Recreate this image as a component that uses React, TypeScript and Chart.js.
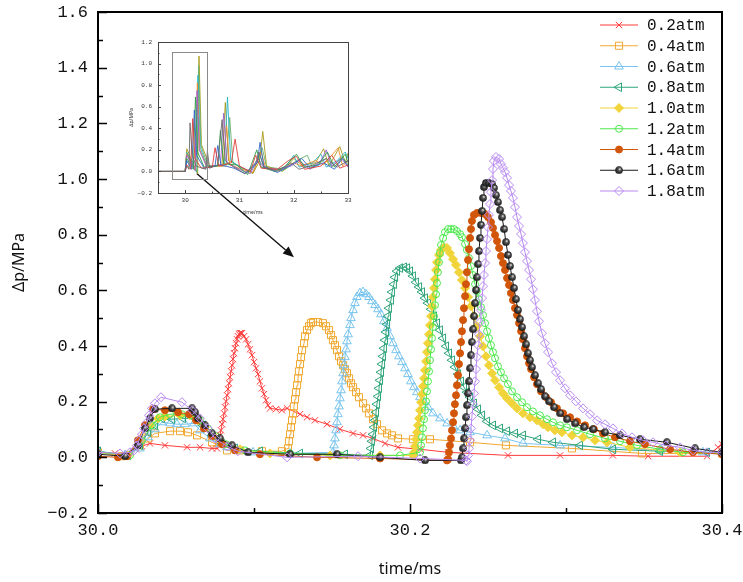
import React, { useEffect, useRef } from 'react';
import { Chart, registerables } from 'chart.js';

Chart.register(...registerables);

type Pt = [number, number];

const MONO = "'Liberation Mono', 'DejaVu Sans Mono', monospace";
const SANS = "'Noto Sans', 'DejaVu Sans', sans-serif";

const LABELS = ['0.2atm', '0.4atm', '0.6atm', '0.8atm', '1.0atm', '1.2atm', '1.4atm', '1.6atm', '1.8atm'];
const COLORS = ['#ff3b3b', '#f0a830', '#79c4ee', '#2fa57a', '#f0d43a', '#4de84d', '#d2560a', '#1a1a1a', '#b889f0'];
const FILLS = ['', '', '', '', '#f0d43a', '', '#d2560a', '', ''];
const MARKERS = ['crossRot', 'rect', 'triangle', 'triangle', 'rectRot', 'circle', 'circle', 'ball', 'rectRot'];
const MARKER_ROT = [0, 0, 0, -90, 0, 0, 0, 0, 0];
const MARKER_R = [4.5, 5, 5, 5, 4.5, 3.5, 3.5, 4, 4.5];

const X_MIN = 30.0, X_MAX = 30.4, X_STEP = 0.2;
const Y_MIN = -0.2, Y_MAX = 1.6, Y_STEP = 0.2;

const ARROW_FROM: Pt = [30.0633, 1.02];
const ARROW_TO: Pt = [30.1256, 0.719];

const P02: Pt[] = [[30.0,0.018],[30.0109,0.014],[30.0192,0.014],[30.0244,0.029],[30.0282,0.040],[30.0333,0.050],[30.0429,0.043],[30.0571,0.036],[30.0654,0.036],[30.0731,0.032],[30.0763,0.032],[30.0769,0.047],[30.0776,0.061],[30.0782,0.079],[30.0788,0.097],[30.0795,0.119],[30.0801,0.137],[30.0808,0.158],[30.0814,0.180],[30.0821,0.201],[30.0827,0.223],[30.0833,0.245],[30.0840,0.266],[30.0846,0.288],[30.0853,0.309],[30.0859,0.331],[30.0865,0.353],[30.0872,0.374],[30.0878,0.392],[30.0885,0.410],[30.0891,0.424],[30.0897,0.435],[30.0904,0.442],[30.0910,0.446],[30.0917,0.446],[30.0923,0.446],[30.0936,0.435],[30.0949,0.424],[30.0962,0.406],[30.0974,0.388],[30.0987,0.367],[30.1000,0.342],[30.1013,0.320],[30.1026,0.299],[30.1038,0.273],[30.1051,0.248],[30.1064,0.227],[30.1077,0.205],[30.1090,0.187],[30.1103,0.176],[30.1141,0.173],[30.1179,0.169],[30.1212,0.176],[30.1295,0.155],[30.1340,0.144],[30.1391,0.133],[30.1468,0.119],[30.1551,0.101],[30.1635,0.086],[30.1699,0.079],[30.1763,0.068],[30.1840,0.050],[30.1923,0.036],[30.2064,0.029],[30.2244,0.018],[30.2628,0.007],[30.2962,0.007],[30.3301,0.007],[30.3526,0.004],[30.3904,0.004],[30.3974,0.036],[30.4000,0.047]];

const P04: Pt[] = [[30.0,0.018],[30.0154,0.004],[30.0269,0.043],[30.0321,0.068],[30.0365,0.086],[30.0462,0.094],[30.0526,0.094],[30.0577,0.090],[30.0635,0.079],[30.0731,0.054],[30.0827,0.025],[30.0910,0.025],[30.1051,0.022],[30.1179,0.022],[30.1218,0.032],[30.1224,0.058],[30.1231,0.083],[30.1237,0.108],[30.1244,0.133],[30.1250,0.158],[30.1256,0.183],[30.1263,0.209],[30.1269,0.234],[30.1276,0.259],[30.1282,0.284],[30.1288,0.309],[30.1295,0.335],[30.1301,0.360],[30.1308,0.385],[30.1321,0.410],[30.1327,0.435],[30.1340,0.457],[30.1353,0.471],[30.1365,0.482],[30.1378,0.486],[30.1410,0.486],[30.1442,0.482],[30.1462,0.471],[30.1481,0.457],[30.1494,0.439],[30.1506,0.421],[30.1519,0.403],[30.1532,0.385],[30.1545,0.363],[30.1558,0.345],[30.1571,0.331],[30.1583,0.317],[30.1596,0.302],[30.1609,0.284],[30.1622,0.266],[30.1635,0.252],[30.1654,0.234],[30.1673,0.216],[30.1699,0.194],[30.1718,0.176],[30.1737,0.158],[30.1763,0.137],[30.1788,0.119],[30.1821,0.097],[30.1853,0.086],[30.1885,0.079],[30.1923,0.068],[30.2019,0.065],[30.2128,0.065],[30.2385,0.054],[30.2615,0.043],[30.3038,0.032],[30.3487,0.014],[30.4,0.014]];

const P06: Pt[] = [[30.0,0.022],[30.0173,0.007],[30.0269,0.032],[30.0321,0.072],[30.0365,0.101],[30.0410,0.126],[30.0462,0.122],[30.0506,0.119],[30.0558,0.119],[30.0615,0.122],[30.0654,0.097],[30.0718,0.068],[30.0782,0.047],[30.0827,0.036],[30.0994,0.018],[30.1231,0.014],[30.1506,0.018],[30.1513,0.043],[30.1519,0.068],[30.1526,0.097],[30.1532,0.126],[30.1538,0.155],[30.1545,0.183],[30.1551,0.212],[30.1558,0.241],[30.1564,0.273],[30.1571,0.302],[30.1577,0.331],[30.1583,0.360],[30.1590,0.388],[30.1596,0.417],[30.1603,0.442],[30.1615,0.475],[30.1622,0.500],[30.1635,0.529],[30.1647,0.554],[30.1660,0.576],[30.1679,0.590],[30.1699,0.594],[30.1718,0.586],[30.1737,0.576],[30.1756,0.561],[30.1776,0.547],[30.1795,0.532],[30.1814,0.514],[30.1833,0.489],[30.1853,0.464],[30.1872,0.435],[30.1891,0.410],[30.1910,0.385],[30.1929,0.363],[30.1949,0.342],[30.1968,0.320],[30.1987,0.299],[30.2006,0.273],[30.2026,0.252],[30.2045,0.234],[30.2064,0.216],[30.2090,0.198],[30.2115,0.180],[30.2147,0.158],[30.2192,0.140],[30.2237,0.122],[30.2282,0.108],[30.2321,0.097],[30.2385,0.090],[30.2494,0.079],[30.2609,0.068],[30.2724,0.050],[30.2962,0.043],[30.3301,0.036],[30.3603,0.025],[30.3878,0.018],[30.4,0.018]];

const P08: Pt[] = [[30.0,0.022],[30.0192,0.007],[30.0269,0.043],[30.0321,0.090],[30.0365,0.115],[30.0410,0.140],[30.0474,0.137],[30.0545,0.140],[30.0622,0.140],[30.0673,0.115],[30.0731,0.079],[30.0795,0.050],[30.0878,0.032],[30.1038,0.022],[30.1295,0.014],[30.1583,0.011],[30.1744,0.007],[30.1750,0.032],[30.1756,0.058],[30.1763,0.083],[30.1769,0.108],[30.1776,0.133],[30.1782,0.162],[30.1788,0.191],[30.1795,0.219],[30.1801,0.248],[30.1808,0.277],[30.1814,0.306],[30.1821,0.335],[30.1827,0.363],[30.1833,0.392],[30.1840,0.421],[30.1846,0.450],[30.1853,0.478],[30.1859,0.507],[30.1865,0.536],[30.1878,0.565],[30.1885,0.594],[30.1897,0.622],[30.1904,0.647],[30.1917,0.669],[30.1936,0.680],[30.1962,0.683],[30.1981,0.680],[30.2000,0.669],[30.2019,0.651],[30.2038,0.629],[30.2058,0.612],[30.2077,0.594],[30.2096,0.572],[30.2115,0.554],[30.2135,0.532],[30.2154,0.507],[30.2173,0.482],[30.2192,0.457],[30.2212,0.428],[30.2231,0.399],[30.2250,0.374],[30.2269,0.349],[30.2288,0.324],[30.2308,0.299],[30.2327,0.273],[30.2346,0.252],[30.2365,0.234],[30.2385,0.216],[30.2410,0.194],[30.2436,0.173],[30.2462,0.151],[30.2494,0.129],[30.2532,0.115],[30.2577,0.104],[30.2622,0.094],[30.2673,0.086],[30.2724,0.079],[30.2821,0.065],[30.2917,0.054],[30.3090,0.043],[30.3301,0.029],[30.3603,0.022],[30.3904,0.018],[30.4,0.018]];

const P10: Pt[] = [[30.0,0.018],[30.0192,0.007],[30.0269,0.061],[30.0333,0.115],[30.0385,0.140],[30.0429,0.147],[30.0526,0.151],[30.0590,0.151],[30.0641,0.133],[30.0686,0.108],[30.0737,0.079],[30.0795,0.054],[30.0910,0.029],[30.1103,0.014],[30.1487,0.007],[30.1808,0.007],[30.2019,0.007],[30.2026,0.018],[30.2032,0.040],[30.2038,0.065],[30.2045,0.090],[30.2051,0.115],[30.2058,0.140],[30.2064,0.169],[30.2071,0.198],[30.2077,0.227],[30.2083,0.255],[30.2090,0.284],[30.2096,0.313],[30.2103,0.345],[30.2109,0.378],[30.2115,0.410],[30.2122,0.442],[30.2128,0.475],[30.2135,0.507],[30.2141,0.543],[30.2147,0.576],[30.2154,0.608],[30.2160,0.640],[30.2167,0.673],[30.2173,0.701],[30.2186,0.727],[30.2199,0.745],[30.2218,0.755],[30.2237,0.752],[30.2256,0.734],[30.2276,0.712],[30.2295,0.691],[30.2314,0.665],[30.2333,0.637],[30.2353,0.608],[30.2372,0.576],[30.2391,0.543],[30.2410,0.507],[30.2429,0.471],[30.2449,0.435],[30.2468,0.399],[30.2487,0.363],[30.2506,0.331],[30.2526,0.302],[30.2545,0.277],[30.2571,0.252],[30.2596,0.230],[30.2622,0.212],[30.2654,0.194],[30.2686,0.176],[30.2724,0.158],[30.2769,0.144],[30.2814,0.133],[30.2853,0.119],[30.2885,0.108],[30.2929,0.097],[30.2974,0.090],[30.3038,0.079],[30.3109,0.072],[30.3186,0.061],[30.3263,0.054],[30.3410,0.036],[30.3731,0.018],[30.4,0.014]];

const P12: Pt[] = [[30.0,0.018],[30.0205,0.007],[30.0282,0.061],[30.0346,0.115],[30.0397,0.144],[30.0462,0.155],[30.0538,0.155],[30.0603,0.151],[30.0654,0.133],[30.0705,0.104],[30.0756,0.076],[30.0821,0.047],[30.0942,0.025],[30.1231,0.014],[30.1551,0.007],[30.1936,0.007],[30.2064,0.018],[30.2071,0.043],[30.2077,0.072],[30.2083,0.104],[30.2090,0.137],[30.2096,0.169],[30.2103,0.201],[30.2109,0.237],[30.2115,0.273],[30.2122,0.309],[30.2128,0.349],[30.2135,0.388],[30.2141,0.428],[30.2147,0.468],[30.2154,0.507],[30.2160,0.547],[30.2167,0.586],[30.2173,0.626],[30.2179,0.665],[30.2186,0.701],[30.2192,0.734],[30.2199,0.763],[30.2212,0.788],[30.2224,0.809],[30.2244,0.820],[30.2263,0.820],[30.2282,0.820],[30.2301,0.813],[30.2321,0.802],[30.2333,0.791],[30.2353,0.766],[30.2365,0.745],[30.2378,0.716],[30.2391,0.687],[30.2404,0.655],[30.2417,0.622],[30.2429,0.597],[30.2442,0.568],[30.2455,0.540],[30.2468,0.511],[30.2481,0.482],[30.2494,0.453],[30.2506,0.428],[30.2519,0.403],[30.2532,0.378],[30.2545,0.356],[30.2564,0.327],[30.2583,0.306],[30.2603,0.284],[30.2628,0.263],[30.2654,0.237],[30.2686,0.216],[30.2718,0.198],[30.2750,0.180],[30.2788,0.165],[30.2833,0.151],[30.2878,0.137],[30.2917,0.126],[30.2962,0.115],[30.3006,0.108],[30.3071,0.097],[30.3154,0.083],[30.3250,0.068],[30.3346,0.058],[30.3455,0.043],[30.3603,0.029],[30.3750,0.018],[30.4,0.014]];

const P14: Pt[] = [[30.0,0.004],[30.0128,0.0],[30.0186,0.004],[30.0256,0.061],[30.0301,0.115],[30.0353,0.173],[30.0429,0.169],[30.0513,0.162],[30.0583,0.155],[30.0628,0.133],[30.0679,0.104],[30.0731,0.076],[30.0795,0.047],[30.0878,0.025],[30.1038,0.011],[30.1404,0.0],[30.1808,-0.004],[30.2237,-0.011],[30.2244,-0.007],[30.2250,0.018],[30.2256,0.043],[30.2263,0.068],[30.2269,0.097],[30.2276,0.126],[30.2282,0.158],[30.2288,0.191],[30.2295,0.223],[30.2301,0.259],[30.2308,0.295],[30.2314,0.335],[30.2321,0.374],[30.2327,0.414],[30.2333,0.453],[30.2340,0.493],[30.2346,0.536],[30.2353,0.579],[30.2359,0.622],[30.2365,0.665],[30.2372,0.709],[30.2378,0.748],[30.2385,0.788],[30.2391,0.820],[30.2397,0.849],[30.2410,0.871],[30.2429,0.878],[30.2455,0.878],[30.2481,0.874],[30.2500,0.863],[30.2519,0.845],[30.2532,0.824],[30.2545,0.799],[30.2558,0.777],[30.2571,0.752],[30.2583,0.723],[30.2596,0.698],[30.2609,0.673],[30.2622,0.644],[30.2635,0.619],[30.2647,0.590],[30.2660,0.565],[30.2673,0.536],[30.2686,0.511],[30.2699,0.482],[30.2712,0.453],[30.2724,0.424],[30.2737,0.392],[30.2750,0.363],[30.2763,0.338],[30.2776,0.317],[30.2795,0.288],[30.2814,0.263],[30.2840,0.237],[30.2872,0.216],[30.2904,0.198],[30.2942,0.176],[30.2981,0.158],[30.3026,0.144],[30.3071,0.129],[30.3122,0.115],[30.3179,0.101],[30.3237,0.086],[30.3314,0.072],[30.3410,0.058],[30.3506,0.047],[30.3667,0.029],[30.3814,0.018],[30.4,0.011]];

const P16: Pt[] = [[30.0,0.011],[30.0173,0.004],[30.0256,0.043],[30.0301,0.104],[30.0333,0.140],[30.0365,0.173],[30.0474,0.176],[30.0603,0.176],[30.0622,0.162],[30.0641,0.140],[30.0686,0.115],[30.0731,0.086],[30.0782,0.068],[30.0859,0.043],[30.0962,0.018],[30.1231,0.011],[30.1532,0.011],[30.1808,0.0],[30.2096,-0.011],[30.2327,-0.011],[30.2333,0.0],[30.2340,0.032],[30.2346,0.068],[30.2353,0.104],[30.2359,0.144],[30.2365,0.187],[30.2372,0.230],[30.2378,0.273],[30.2385,0.320],[30.2391,0.367],[30.2397,0.414],[30.2404,0.460],[30.2410,0.507],[30.2417,0.554],[30.2423,0.601],[30.2429,0.647],[30.2436,0.694],[30.2442,0.741],[30.2449,0.788],[30.2455,0.835],[30.2462,0.885],[30.2468,0.932],[30.2474,0.971],[30.2487,0.986],[30.2506,0.986],[30.2526,0.982],[30.2538,0.968],[30.2551,0.942],[30.2564,0.917],[30.2577,0.888],[30.2590,0.863],[30.2603,0.820],[30.2615,0.773],[30.2628,0.727],[30.2641,0.687],[30.2654,0.647],[30.2667,0.608],[30.2679,0.568],[30.2692,0.529],[30.2705,0.496],[30.2718,0.468],[30.2731,0.435],[30.2744,0.406],[30.2756,0.374],[30.2769,0.349],[30.2782,0.324],[30.2801,0.295],[30.2821,0.266],[30.2840,0.245],[30.2865,0.219],[30.2891,0.201],[30.2923,0.180],[30.2962,0.158],[30.3006,0.137],[30.3058,0.122],[30.3115,0.108],[30.3173,0.101],[30.3250,0.090],[30.3346,0.079],[30.3474,0.065],[30.3647,0.054],[30.3827,0.032],[30.4,0.018]];

const P18: Pt[] = [[30.0,0.018],[30.0141,0.014],[30.0205,0.018],[30.0231,0.025],[30.0250,0.043],[30.0263,0.061],[30.0282,0.083],[30.0295,0.104],[30.0314,0.126],[30.0327,0.151],[30.0346,0.176],[30.0365,0.194],[30.0404,0.216],[30.0538,0.198],[30.0603,0.169],[30.0654,0.140],[30.0705,0.104],[30.0750,0.068],[30.0827,0.040],[30.0897,0.022],[30.1212,0.0],[30.1667,0.004],[30.2064,-0.004],[30.2359,-0.011],[30.2365,-0.014],[30.2372,0.007],[30.2378,0.032],[30.2385,0.061],[30.2391,0.104],[30.2397,0.147],[30.2404,0.191],[30.2410,0.230],[30.2417,0.273],[30.2423,0.317],[30.2429,0.360],[30.2436,0.403],[30.2442,0.442],[30.2449,0.486],[30.2455,0.529],[30.2462,0.572],[30.2468,0.615],[30.2474,0.655],[30.2481,0.698],[30.2487,0.741],[30.2494,0.784],[30.2500,0.827],[30.2506,0.871],[30.2513,0.910],[30.2519,0.953],[30.2526,0.996],[30.2532,1.036],[30.2538,1.065],[30.2551,1.079],[30.2571,1.072],[30.2583,1.054],[30.2596,1.040],[30.2609,1.025],[30.2622,1.004],[30.2635,0.978],[30.2647,0.957],[30.2660,0.932],[30.2673,0.899],[30.2686,0.863],[30.2699,0.831],[30.2712,0.802],[30.2724,0.770],[30.2737,0.737],[30.2750,0.705],[30.2763,0.673],[30.2776,0.640],[30.2788,0.604],[30.2801,0.565],[30.2814,0.525],[30.2827,0.489],[30.2846,0.446],[30.2865,0.410],[30.2885,0.378],[30.2910,0.338],[30.2936,0.306],[30.2962,0.277],[30.2994,0.248],[30.3026,0.223],[30.3064,0.201],[30.3109,0.176],[30.3154,0.155],[30.3199,0.133],[30.3250,0.119],[30.3301,0.104],[30.3359,0.086],[30.3423,0.072],[30.3494,0.061],[30.3558,0.054],[30.3641,0.043],[30.3731,0.036],[30.3814,0.025],[30.3904,0.018],[30.4,0.018]];

const SERIES: Pt[][] = [P02, P04, P06, P08, P10, P12, P14, P16, P18];

// ---------- inset (overview 29.5 – 33 ms) ----------
const INSET_X_MIN = 29.5, INSET_X_MAX = 33, INSET_X_STEP = 1;
const INSET_Y_MIN = -0.2, INSET_Y_MAX = 1.2, INSET_Y_STEP = 0.2;
const INSET_BOX = { x0: 29.76, x1: 30.4, y0: -0.07, y1: 1.108 };
const INSET_COLORS = ['#6b6b6b', '#e0403a', '#3366cc', '#2e9e4a', '#9a5fd0', '#f08c28', '#25b5c8', '#64b06a', '#a89a1a'];

const I1: Pt[] = [[29.5,0.0],[30.0,0.0],[30.03,0.05],[30.07,0.02],[30.09,0.45],[30.13,0.15],[30.2,0.05],[30.38,0.02],[30.41,0.19],[30.45,0.03],[30.6,0.06],[30.68,0.48],[30.74,0.1],[30.9,0.04],[31.1,-0.02],[31.3,0.08],[31.36,0.18],[31.45,0.04],[31.7,0.0],[31.95,0.08],[32.1,0.02],[32.35,0.06],[32.6,0.12],[32.8,0.04],[33.0,0.1]];
const I2: Pt[] = [[29.5,0.0],[30.0,0.0],[30.03,0.06],[30.1,0.02],[30.14,0.49],[30.18,0.12],[30.3,0.03],[30.5,0.04],[30.55,0.22],[30.62,0.05],[30.85,0.08],[30.92,0.3],[31.0,0.05],[31.2,0.0],[31.3,0.15],[31.4,0.03],[31.7,0.02],[31.9,0.1],[32.05,0.14],[32.2,0.02],[32.5,0.05],[32.7,0.15],[32.85,0.03],[33.0,0.06]];
const I3: Pt[] = [[29.5,0.0],[30.0,0.0],[30.03,0.1],[30.12,0.02],[30.17,0.57],[30.21,0.15],[30.35,0.03],[30.55,0.05],[30.6,0.24],[30.66,0.06],[30.9,0.03],[31.1,-0.02],[31.33,0.08],[31.38,0.27],[31.45,0.05],[31.7,-0.01],[31.98,0.07],[32.15,0.12],[32.3,0.03],[32.55,0.08],[32.75,0.02],[32.9,0.12],[33.0,0.05]];
const I4: Pt[] = [[29.5,0.0],[30.0,0.0],[30.03,0.12],[30.15,0.02],[30.19,0.69],[30.23,0.18],[30.35,0.04],[30.6,0.05],[30.65,0.38],[30.71,0.07],[30.95,0.06],[31.15,-0.03],[31.32,0.2],[31.4,0.04],[31.65,0.0],[31.85,0.05],[32.05,0.16],[32.2,0.04],[32.45,0.06],[32.62,0.18],[32.75,0.04],[32.95,0.16],[33.0,0.08]];
const I5: Pt[] = [[29.5,0.0],[30.0,0.0],[30.03,0.15],[30.18,0.01],[30.22,0.75],[30.26,0.2],[30.4,0.04],[30.65,0.06],[30.71,0.54],[30.77,0.08],[31.0,0.02],[31.2,-0.02],[31.35,0.12],[31.45,0.03],[31.7,0.02],[31.95,0.05],[32.1,0.1],[32.3,0.02],[32.5,0.1],[32.6,0.2],[32.7,0.05],[32.88,0.12],[33.0,0.04]];
const I6: Pt[] = [[29.5,0.0],[30.0,0.0],[30.03,0.16],[30.19,0.01],[30.225,0.82],[30.27,0.2],[30.4,0.05],[30.7,0.05],[30.76,0.42],[30.82,0.06],[31.05,0.02],[31.25,-0.01],[31.4,0.18],[31.48,0.04],[31.75,0.01],[32.0,0.08],[32.15,0.05],[32.4,0.1],[32.55,0.06],[32.82,0.22],[32.9,0.05],[33.0,0.1]];
const I7: Pt[] = [[29.5,0.0],[30.0,0.0],[30.03,0.17],[30.2,0.0],[30.235,0.89],[30.28,0.22],[30.4,0.05],[30.72,0.06],[30.78,0.69],[30.84,0.1],[31.05,0.03],[31.2,0.0],[31.38,0.15],[31.46,0.03],[31.8,0.01],[32.0,0.15],[32.1,0.04],[32.35,0.08],[32.5,0.16],[32.6,0.04],[32.8,0.1],[32.95,0.18],[33.0,0.12]];
const I8: Pt[] = [[29.5,0.0],[30.0,0.0],[30.03,0.18],[30.22,-0.01],[30.248,0.98],[30.29,0.24],[30.42,0.05],[30.75,0.05],[30.82,0.5],[30.88,0.08],[31.1,0.02],[31.25,-0.01],[31.42,0.22],[31.5,0.04],[31.85,0.02],[32.05,0.1],[32.25,0.15],[32.35,0.03],[32.6,0.12],[32.7,0.04],[32.9,0.14],[33.0,0.06]];
const I9: Pt[] = [[29.5,0.0],[30.0,0.0],[30.03,0.21],[30.23,-0.02],[30.255,1.07],[30.3,0.25],[30.45,0.05],[30.68,0.06],[30.74,0.64],[30.8,0.1],[31.05,0.03],[31.25,-0.02],[31.37,0.1],[31.43,0.37],[31.5,0.05],[31.8,0.0],[32.0,0.12],[32.15,0.06],[32.4,0.08],[32.55,0.21],[32.65,0.05],[32.85,0.23],[32.95,0.08],[33.0,0.17]];
const INSET_SERIES: Pt[][] = [I1, I2, I3, I4, I5, I6, I7, I8, I9];

function fmt1(v: number): string {
  return (Math.round(v * 10) / 10).toFixed(1).replace('-', '\u2212');
}

function makeBall(d: number): HTMLCanvasElement {
  const c = document.createElement('canvas');
  c.width = d;
  c.height = d;
  const g = c.getContext('2d')!;
  const grad = g.createRadialGradient(d * 0.62, d * 0.35, 0.2, d / 2, d / 2, d / 2);
  grad.addColorStop(0, '#eeeeee');
  grad.addColorStop(0.35, '#555555');
  grad.addColorStop(1, '#0d0d0d');
  g.fillStyle = grad;
  g.beginPath();
  g.arc(d / 2, d / 2, d / 2 - 0.2, 0, Math.PI * 2);
  g.fill();
  return c;
}

function drawMarker(ctx: CanvasRenderingContext2D, style: string, x: number, y: number, r: number, rot: number, stroke: string, fill: string, img: HTMLCanvasElement) {
  ctx.save();
  if (style === 'ball') {
    ctx.drawImage(img, x - img.width / 2, y - img.height / 2);
    ctx.restore();
    return;
  }
  ctx.lineWidth = 1;
  ctx.strokeStyle = stroke;
  ctx.fillStyle = fill || 'rgba(0,0,0,0)';
  ctx.beginPath();
  if (style === 'circle') {
    ctx.arc(x, y, r, 0, Math.PI * 2);
  } else if (style === 'rect') {
    const s = r * Math.SQRT1_2;
    ctx.rect(x - s, y - s, 2 * s, 2 * s);
  } else if (style === 'rectRot') {
    ctx.moveTo(x, y - r);
    ctx.lineTo(x + r, y);
    ctx.lineTo(x, y + r);
    ctx.lineTo(x - r, y);
    ctx.closePath();
  } else if (style === 'triangle') {
    let a = (rot * Math.PI) / 180;
    for (let k = 0; k < 3; k++) {
      const px = x + Math.sin(a) * r;
      const py = y - Math.cos(a) * r;
      if (k === 0) ctx.moveTo(px, py);
      else ctx.lineTo(px, py);
      a += (2 * Math.PI) / 3;
    }
    ctx.closePath();
  } else if (style === 'crossRot') {
    const d = r * Math.SQRT1_2;
    ctx.moveTo(x - d, y - d);
    ctx.lineTo(x + d, y + d);
    ctx.moveTo(x + d, y - d);
    ctx.lineTo(x - d, y + d);
  }
  if (fill) ctx.fill();
  ctx.stroke();
  ctx.restore();
}

export default function App() {
  const mainRef = useRef<HTMLCanvasElement | null>(null);
  const insetRef = useRef<HTMLCanvasElement | null>(null);

  useEffect(() => {
    document.body.style.margin = '0';
    const ball = makeBall(8);

    const framePlugin = {
      id: 'frameTicks',
      afterDatasetsDraw(chart: any) {
        const { ctx, chartArea: a, scales } = chart;
        const xs = scales.x, ys = scales.y;
        ctx.save();
        ctx.strokeStyle = '#000';
        ctx.lineWidth = 1.5;
        const ny = Math.round((Y_MAX - Y_MIN) / (Y_STEP / 2));
        for (let k = 0; k <= ny; k++) {
          const v = Y_MIN + (k * Y_STEP) / 2;
          const py = Math.round(ys.getPixelForValue(v)) + 0.5;
          const len = k % 2 === 0 ? 9 : 5;
          ctx.beginPath();
          ctx.moveTo(a.left, py);
          ctx.lineTo(a.left + len, py);
          ctx.stroke();
        }
        const nx = Math.round((X_MAX - X_MIN) / (X_STEP / 2));
        for (let k = 0; k <= nx; k++) {
          const v = X_MIN + (k * X_STEP) / 2;
          const px = Math.round(xs.getPixelForValue(v)) + 0.5;
          const len = k % 2 === 0 ? 9 : 5;
          ctx.beginPath();
          ctx.moveTo(px, a.bottom);
          ctx.lineTo(px, a.bottom - len);
          ctx.stroke();
        }
        ctx.lineWidth = 2;
        ctx.strokeRect(a.left, a.top, a.right - a.left, a.bottom - a.top);

        // arrow from the inset zoom box to the enlarged region
        const x0 = xs.getPixelForValue(ARROW_FROM[0]);
        const y0 = ys.getPixelForValue(ARROW_FROM[1]);
        const x1 = xs.getPixelForValue(ARROW_TO[0]);
        const y1 = ys.getPixelForValue(ARROW_TO[1]);
        const ang = Math.atan2(y1 - y0, x1 - x0);
        const hl = 11, hw = 4.5;
        const bx = x1 - Math.cos(ang) * hl, by = y1 - Math.sin(ang) * hl;
        ctx.strokeStyle = '#111';
        ctx.fillStyle = '#111';
        ctx.lineWidth = 1.4;
        ctx.beginPath();
        ctx.moveTo(x0, y0);
        ctx.lineTo(bx, by);
        ctx.stroke();
        ctx.beginPath();
        ctx.moveTo(x1, y1);
        ctx.lineTo(bx + Math.sin(ang) * hw, by - Math.cos(ang) * hw);
        ctx.lineTo(bx - Math.sin(ang) * hw, by + Math.cos(ang) * hw);
        ctx.closePath();
        ctx.fill();

        // legend
        LABELS.forEach((lab, i) => {
          const y = a.top + 13 + i * 20.75;
          const lx0 = a.right - 122, lx1 = a.right - 84;
          ctx.strokeStyle = COLORS[i];
          ctx.lineWidth = 1;
          ctx.beginPath();
          ctx.moveTo(lx0, y);
          ctx.lineTo(lx1, y);
          ctx.stroke();
          drawMarker(ctx, MARKERS[i], (lx0 + lx1) / 2, y, MARKER_R[i], MARKER_ROT[i], COLORS[i], FILLS[i], ball);
          ctx.fillStyle = '#111';
          ctx.font = `16px ${MONO}`;
          ctx.textAlign = 'left';
          ctx.textBaseline = 'middle';
          ctx.fillText(lab, a.right - 75, y + 1);
        });
        ctx.restore();
      },
    };

    const datasets = SERIES.map((d, i) => ({
      label: LABELS[i],
      data: d.map(([x, y]) => ({ x, y })),
      showLine: true,
      borderColor: COLORS[i],
      borderWidth: 1,
      backgroundColor: FILLS[i] || 'rgba(0,0,0,0)',
      pointStyle: MARKERS[i] === 'ball' ? ball : MARKERS[i],
      pointRotation: MARKER_ROT[i],
      pointRadius: MARKER_R[i],
      pointHoverRadius: MARKER_R[i],
      pointBorderColor: COLORS[i],
      pointBackgroundColor: FILLS[i] || 'rgba(0,0,0,0)',
      pointBorderWidth: 1,
      tension: 0,
      order: 8 - i,
    }));

    const main = new Chart(mainRef.current!, {
      type: 'scatter',
      data: { datasets } as any,
      options: {
        animation: false,
        responsive: false,
        devicePixelRatio: 1,
        events: [],
        layout: { padding: { left: 0, right: 21, top: 12, bottom: 0 } },
        plugins: { legend: { display: false }, tooltip: { enabled: false } },
        scales: {
          x: {
            type: 'linear',
            min: X_MIN,
            max: X_MAX,
            grid: { display: false, drawTicks: false },
            border: { display: false },
            ticks: {
              stepSize: X_STEP,
              autoSkip: false,
              maxRotation: 0,
              padding: 7,
              color: '#111',
              font: { family: MONO, size: 17 },
              callback: (v: any) => fmt1(Number(v)),
            },
            title: { display: true, text: 'time/ms', color: '#111', font: { family: SANS, size: 16 }, padding: { top: 0, bottom: 3 } },
            afterFit: (s: any) => { s.height = 69; s.paddingLeft = 0; s.paddingRight = 0; },
          },
          y: {
            type: 'linear',
            min: Y_MIN,
            max: Y_MAX,
            grid: { display: false, drawTicks: false },
            border: { display: false },
            ticks: {
              stepSize: Y_STEP,
              autoSkip: false,
              padding: 10,
              color: '#111',
              font: { family: MONO, size: 17 },
              callback: (v: any) => fmt1(Number(v)),
            },
            title: { display: true, text: '\u0394p/MPa', color: '#111', font: { family: SANS, size: 16 }, padding: { top: 10, bottom: 0 } },
            afterFit: (s: any) => { s.width = 98; s.paddingTop = 0; s.paddingBottom = 0; },
          },
        },
      } as any,
      plugins: [framePlugin],
    });

    const insetPlugin = {
      id: 'insetFrame',
      afterDatasetsDraw(chart: any) {
        const { ctx, chartArea: a, scales } = chart;
        const xs = scales.x, ys = scales.y;
        ctx.save();
        ctx.strokeStyle = '#444';
        ctx.lineWidth = 1;
        const ny = Math.round((INSET_Y_MAX - INSET_Y_MIN) / (INSET_Y_STEP / 2));
        for (let k = 0; k <= ny; k++) {
          const py = Math.round(ys.getPixelForValue(INSET_Y_MIN + (k * INSET_Y_STEP) / 2)) + 0.5;
          const len = k % 2 === 0 ? 3 : 1.5;
          ctx.beginPath();
          ctx.moveTo(a.left, py);
          ctx.lineTo(a.left + len, py);
          ctx.stroke();
        }
        for (let v = Math.ceil(INSET_X_MIN * 2) / 2; v <= INSET_X_MAX + 1e-9; v += INSET_X_STEP / 2) {
          const px = Math.round(xs.getPixelForValue(v)) + 0.5;
          const len = Math.abs(v - Math.round(v)) < 1e-6 ? 3 : 1.5;
          ctx.beginPath();
          ctx.moveTo(px, a.bottom);
          ctx.lineTo(px, a.bottom - len);
          ctx.stroke();
        }
        ctx.strokeRect(Math.round(a.left) + 0.5, Math.round(a.top) + 0.5, Math.round(a.right - a.left), Math.round(a.bottom - a.top));
        // zoom box
        const bx0 = xs.getPixelForValue(INSET_BOX.x0), bx1 = xs.getPixelForValue(INSET_BOX.x1);
        const by0 = ys.getPixelForValue(INSET_BOX.y0), by1 = ys.getPixelForValue(INSET_BOX.y1);
        ctx.strokeStyle = '#8a8a8a';
        ctx.strokeRect(Math.round(bx0) + 0.5, Math.round(by1) + 0.5, Math.round(bx1 - bx0), Math.round(by0 - by1));
        ctx.restore();
      },
    };

    const inset = new Chart(insetRef.current!, {
      type: 'scatter',
      data: {
        datasets: INSET_SERIES.map((d, i) => ({
          data: d.map(([x, y]) => ({ x, y })),
          showLine: true,
          borderColor: INSET_COLORS[i],
          borderWidth: 0.9,
          pointRadius: 0,
          tension: 0,
        })),
      } as any,
      options: {
        animation: false,
        responsive: false,
        devicePixelRatio: 1,
        events: [],
        layout: { padding: { left: 0, right: 6, top: 6, bottom: 0 } },
        plugins: { legend: { display: false }, tooltip: { enabled: false } },
        scales: {
          x: {
            type: 'linear',
            min: INSET_X_MIN,
            max: INSET_X_MAX,
            grid: { display: false, drawTicks: false },
            border: { display: false },
            ticks: {
              stepSize: INSET_X_STEP,
              includeBounds: false,
              autoSkip: false,
              maxRotation: 0,
              padding: 4,
              color: '#333',
              font: { family: MONO, size: 6 },
              callback: (v: any) => String(Math.round(Number(v))),
            },
            title: { display: true, text: 'time/ms', color: '#333', font: { family: SANS, size: 5 }, padding: { top: 0, bottom: 4 } },
            afterFit: (s: any) => { s.height = 27; s.paddingLeft = 0; s.paddingRight = 0; },
          },
          y: {
            type: 'linear',
            min: INSET_Y_MIN,
            max: INSET_Y_MAX,
            grid: { display: false, drawTicks: false },
            border: { display: false },
            ticks: {
              stepSize: INSET_Y_STEP,
              autoSkip: false,
              padding: 6,
              color: '#333',
              font: { family: MONO, size: 6 },
              callback: (v: any) => fmt1(Number(v)),
            },
            title: { display: true, text: '\u0394p/MPa', color: '#333', font: { family: SANS, size: 5 }, padding: { top: 11, bottom: 0 } },
            afterFit: (s: any) => { s.width = 40; s.paddingTop = 0; s.paddingBottom = 0; },
          },
        },
      } as any,
      plugins: [insetPlugin],
    });

    return () => {
      main.destroy();
      inset.destroy();
    };
  }, []);

  return (
    <div style={{ position: 'absolute', left: 0, top: 0, width: 743, height: 582, background: '#fff' }}>
      <canvas ref={mainRef} width={743} height={582} style={{ position: 'absolute', left: 0, top: 0 }} />
      <canvas ref={insetRef} width={236} height={184} style={{ position: 'absolute', left: 118, top: 36 }} />
    </div>
  );
}
